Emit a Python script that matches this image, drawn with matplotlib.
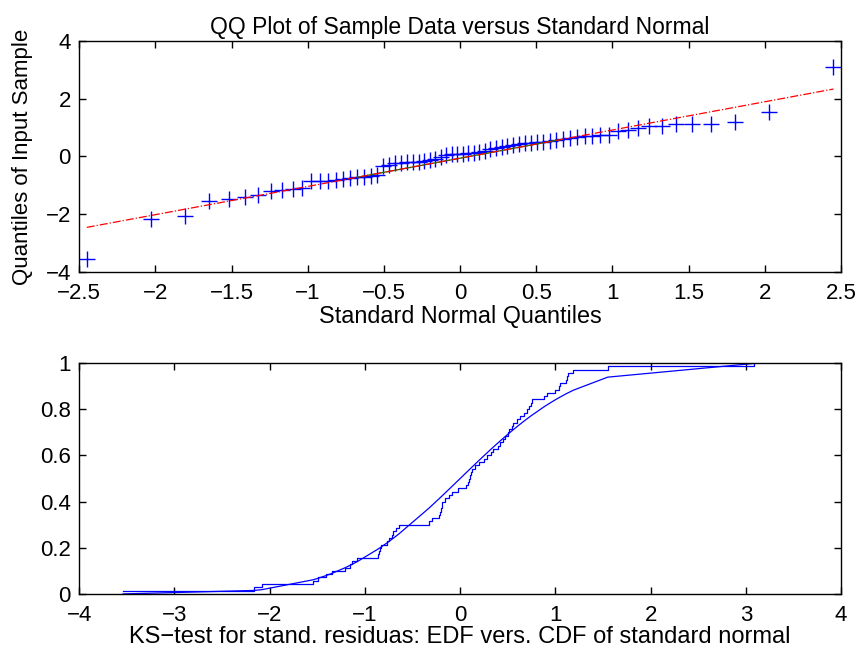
import numpy as np
import matplotlib
matplotlib.use('Agg')
import matplotlib.pyplot as plt
from statistics import NormalDist

# sorted standardized residuals
residuals = [
    -3.54, -2.16, -2.08, -1.54, -1.49, -1.41, -1.35, -1.21, -1.16, -1.13,
    -1.08, -0.86, -0.85, -0.84, -0.83, -0.77, -0.75, -0.72, -0.70, -0.67,
    -0.64, -0.33, -0.30, -0.22, -0.21, -0.20, -0.19, -0.19, -0.16, -0.12,
    -0.09, -0.02, 0.06, 0.08, 0.09, 0.10, 0.11, 0.13, 0.16, 0.20,
    0.25, 0.28, 0.32, 0.35, 0.40, 0.42, 0.45, 0.47, 0.50, 0.51,
    0.54, 0.56, 0.60, 0.63, 0.67, 0.70, 0.72, 0.74, 0.75, 0.88,
    0.91, 1.00, 1.04, 1.05, 1.11, 1.12, 1.13, 1.19, 1.55, 3.09,
]

top_title = 'QQ Plot of Sample Data versus Standard Normal'
top_xlabel = 'Standard Normal Quantiles'
top_ylabel = 'Quantiles of Input Sample'
bottom_xlabel = 'KS\u2212test for stand. residuas: EDF vers. CDF of standard normal'

plt.rcParams['font.family'] = ['Liberation Sans', 'DejaVu Sans']
plt.rcParams['font.size'] = 16

nd = NormalDist()
y = np.array(sorted(residuals))
n = len(y)
x = np.array([nd.inv_cdf((i - 0.5) / n) for i in range(1, n + 1)])

# reference line through the quartiles (matlab style)
q1, q3 = np.percentile(y, [25, 75], method='hazen')
t1, t3 = nd.inv_cdf(0.25), nd.inv_cdf(0.75)
slope = (q3 - q1) / (t3 - t1)
icpt = q1 - slope * t1

edf = np.arange(1, n + 1) / n
cdf = np.array([nd.cdf(v) for v in y])


def fmt(v, pos=None):
    return ('%g' % v).replace('-', '\u2212')


def style(ax):
    ax.tick_params(direction='in', length=5, top=True, right=True, width=1)
    ax.tick_params(axis='x', pad=8)
    ax.tick_params(axis='y', pad=6)
    for s in ax.spines.values():
        s.set_linewidth(1.0)
    ax.xaxis.set_major_formatter(plt.FuncFormatter(fmt))
    ax.yaxis.set_major_formatter(plt.FuncFormatter(fmt))


fig = plt.figure(figsize=(8.6, 6.52), dpi=100)
ax1 = fig.add_axes([0.092, 0.583, 0.886, 0.354])
ax2 = fig.add_axes([0.092, 0.089, 0.886, 0.354])

ax1.plot(x, y, '+', color='b', markersize=12, markeredgewidth=1.0)
ax1.plot([t1, t3], [q1, q3], '-', color=(0, 0.5, 0), lw=0.9)
xx = np.array([x[0], x[-1]])
ax1.plot(xx, icpt + slope * xx, '-.', color='r', lw=0.9)
ax1.set_xlim(-2.5, 2.5)
ax1.set_ylim(-4, 4)
ax1.set_xticks(np.arange(-2.5, 2.51, 0.5))
ax1.set_yticks([-4, -2, 0, 2, 4])
ax1.set_title(top_title, fontsize=16.5, pad=5)
ax1.set_xlabel(top_xlabel, fontsize=16.8, labelpad=1)
ax1.set_ylabel(top_ylabel, labelpad=9)
style(ax1)

ax2.step(y, edf, where='post', color='b', lw=0.9)
ax2.plot(y, cdf, '-', color='b', lw=0.9)
ax2.set_xlim(-4, 4)
ax2.set_ylim(0, 1)
ax2.set_xticks(np.arange(-4, 5, 1))
ax2.set_yticks(np.arange(0, 1.01, 0.2))
ax2.set_xlabel(bottom_xlabel, fontsize=17, labelpad=0)
style(ax2)

fig.savefig('out.png', dpi=100)
